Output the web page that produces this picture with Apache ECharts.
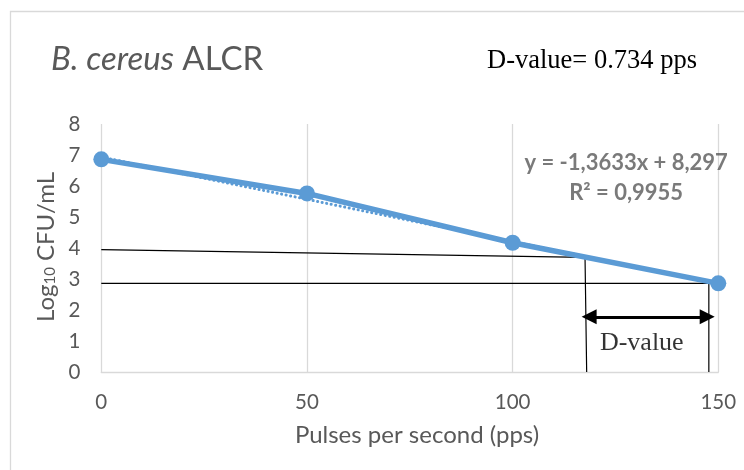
<!DOCTYPE html>
<html>
<head>
<meta charset="utf-8">
<script src="https://cdn.jsdelivr.net/npm/echarts@6/dist/echarts.min.js"></script>
<style>
  html, body { margin: 0; padding: 0; background: #fff; }
  #chart { width: 744px; height: 470px; }
</style>
</head>
<body>
<div id="chart"></div>
<script>
// Survival of B. cereus under ALCR treatment
const pulses = [0, 50, 100, 150];
const logCfu = [6.86, 5.76, 4.17, 2.86];
const xTicks = [0, 50, 100, 150];

// Linear trendline, fitted over point index 1..n as its label states
const trendSlope = -1.3633;
const trendIntercept = 8.297;
const rSquared = 0.9955;
const dValue = 0.734;

// Construction lines used to read the D-value off the curve
const upperGuide = [[0, 3.95], [117.6, 3.70], [118, 0]];
const lowerGuide = [[0, 2.86], [147.7, 2.86], [147.7, 0]];
const dValueSpan = [118.6, 147.3];
const dValueArrowLevel = 1.78;
const dValueLabelAt = [131.4, 0.94];
const equationAt = [127.6, 6.25];

const grey = '#595959';
const blue = '#5B9BD5';
const sans = 'Lato';
const serif = 'Liberation Serif';

const trendData = pulses.map((p, i) => [p, trendSlope * (i + 1) + trendIntercept]);
const comma = v => String(v).replace('.', ',');
const equationText = 'y = ' + comma(trendSlope) + 'x + ' + comma(trendIntercept) +
  '\nR² = ' + comma(rSquared);

const chart = echarts.init(document.getElementById('chart'), null, { renderer: 'canvas' });

chart.setOption({
  animation: false,
  backgroundColor: '#fff',
  grid: { left: 101.3, right: 25.7, top: 124, bottom: 98, containLabel: false },
  xAxis: {
    type: 'value', min: xTicks[0], max: xTicks[xTicks.length - 1], interval: 50,
    axisLine: { show: true, lineStyle: { color: '#d9d9d9', width: 1.3 } },
    axisTick: { show: false },
    axisLabel: { color: grey, fontFamily: sans, fontSize: 20.5, margin: 20 },
    splitLine: { show: true, lineStyle: { color: '#d9d9d9', width: 1.3 } }
  },
  yAxis: {
    type: 'value', min: 0, max: 8, interval: 1,
    axisLine: { show: false },
    axisTick: { show: false },
    axisLabel: { color: grey, fontFamily: sans, fontSize: 20.5, margin: 21 },
    splitLine: { show: false }
  },
  graphic: [
    {
      type: 'rect', silent: true, z: -10,
      shape: { x: 10.5, y: 11.5, width: 900, height: 600 },
      style: { fill: 'none', stroke: '#d9d9d9', lineWidth: 1.3 }
    },
    {
      type: 'text', x: 51, y: 59,
      style: {
        text: '{i|B. cereus} ALCR',
        font: '33px ' + sans, fill: grey, verticalAlign: 'middle',
        rich: { i: { fontStyle: 'italic', fontSize: 33, fontFamily: sans, fill: grey } }
      }
    },
    {
      type: 'text', x: 487, y: 61,
      style: { text: 'D-value= ' + dValue + ' pps', font: '26.5px "' + serif + '"', fill: '#000', verticalAlign: 'middle' }
    },
    {
      type: 'text', x: 417, y: 435,
      style: { text: 'Pulses per second (pps)', font: '24px ' + sans, fill: grey, align: 'center', verticalAlign: 'middle' }
    },
    {
      type: 'text', x: 46, y: 247, rotation: Math.PI / 2,
      style: {
        text: 'Log{s|10} CFU/mL', font: '24px ' + sans, fill: grey,
        align: 'center', verticalAlign: 'middle',
        rich: { s: { fontSize: 15, fontFamily: sans, fill: grey, verticalAlign: 'bottom', lineHeight: 12 } }
      }
    }
  ],
  series: [
    {
      name: 'Trendline', type: 'line', data: trendData, z: 2,
      showSymbol: false, silent: true,
      lineStyle: { color: blue, width: 3, type: [0.1, 4.5], cap: 'round' }
    },
    {
      name: 'Upper guide', type: 'line', data: upperGuide, z: 1,
      showSymbol: false, silent: true,
      lineStyle: { color: '#000', width: 1.2 }
    },
    {
      name: 'Lower guide', type: 'line', data: lowerGuide, z: 1,
      showSymbol: false, silent: true,
      lineStyle: { color: '#000', width: 1.2 }
    },
    {
      name: 'log CFU/mL', type: 'line', z: 3,
      data: pulses.map((p, i) => [p, logCfu[i]]),
      symbol: 'circle', symbolSize: 16,
      itemStyle: { color: blue },
      lineStyle: { color: blue, width: 5.5 }
    },
    {
      name: 'Annotations', type: 'scatter', z: 4, silent: true,
      symbolSize: 0,
      data: [
        { value: dValueLabelAt, label: { formatter: 'D-value', fontFamily: serif, fontSize: 26, color: '#000' } },
        { value: equationAt, label: { formatter: equationText, fontFamily: sans, fontWeight: 'bold', fontSize: 22, lineHeight: 30, color: grey, align: 'center' } }
      ],
      label: { show: true, position: 'inside' },
      markLine: {
        silent: true, symbol: ['triangle', 'triangle'], symbolSize: [15, 15],
        lineStyle: { color: '#000', width: 3, type: 'solid' },
        label: { show: false },
        data: [[
          { coord: [dValueSpan[0], dValueArrowLevel] },
          { coord: [dValueSpan[1], dValueArrowLevel] }
        ]]
      }
    }
  ]
});
</script>
</body>
</html>
